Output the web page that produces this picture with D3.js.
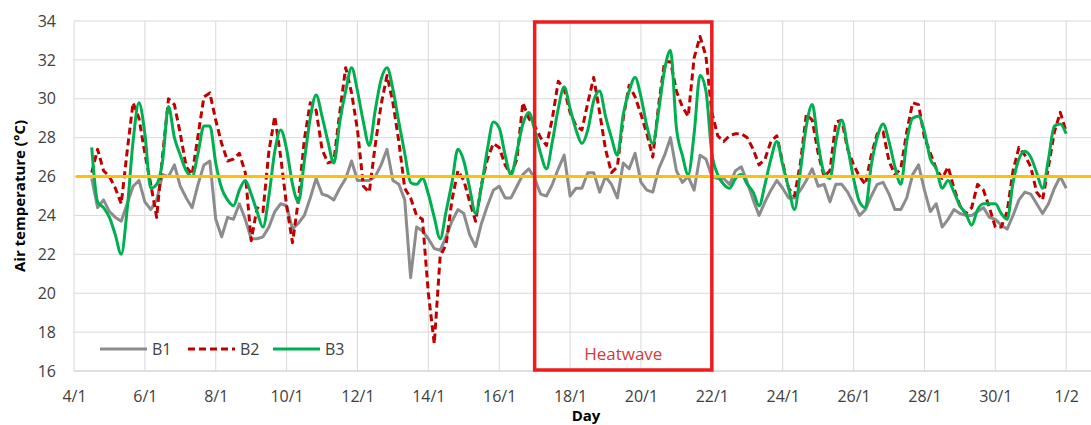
<!DOCTYPE html>
<meta charset="utf-8">
<script src="https://d3js.org/d3.v7.min.js"></script>
<style>
  body { margin: 0; background: #fff; }
  text { font-family: "Open Sans", sans-serif; }
</style>

<!-- Create a div where the graph will take place -->
<div id="my_dataviz"></div>

<script>

  // readings every 4 hours, first one at noon on 4/1 (x = days after 4/1 00:00)
  var startDay = 0.5, stepDays = 4 / 24;

  var b1 = [
    25.9, 24.4, 24.8, 24.2, 23.9, 23.7,
    24.6, 25.5, 25.8, 24.7, 24.3, 24.8,
    26.1, 26.0, 26.6, 25.5, 24.9, 24.4,
    25.6, 26.6, 26.8, 23.8, 22.9, 23.9,
    23.8, 24.6, 23.8, 22.8, 22.8, 22.9,
    23.4, 24.2, 24.6, 24.5, 23.3, 23.6,
    24.0, 24.9, 25.9, 25.1, 25.0, 24.8,
    25.4, 25.9, 26.8, 25.8, 25.8, 25.8,
    26.0, 26.6, 27.4, 25.8, 25.6, 24.8,
    20.8, 23.4, 23.2, 22.8, 22.3, 22.2,
    22.9, 23.7, 24.3, 24.1, 23.0, 22.4,
    23.6, 24.5, 25.3, 25.5, 24.9, 24.9,
    25.5, 26.1, 26.4, 25.9, 25.1, 25.0,
    25.6, 26.4, 27.1, 25.0, 25.4, 25.4,
    26.2, 26.2, 25.2, 26.0, 25.6, 24.9,
    26.7, 26.4, 27.2, 25.7, 25.3, 25.2,
    26.4, 27.1, 28.0, 26.3, 25.7, 26.0,
    25.3, 27.1, 26.9, 26.0, 25.9, 25.9,
    25.6, 26.3, 26.5, 25.7, 24.8, 24.0,
    24.7, 25.3, 25.8, 25.4, 24.9, 24.9,
    25.3, 25.8, 26.4, 25.5, 25.6, 24.7,
    25.6, 25.6, 25.2, 24.6, 24.0, 24.3,
    25.0, 25.6, 25.7, 25.1, 24.3, 24.3,
    24.9, 26.1, 26.6, 25.3, 24.2, 24.6,
    23.4, 23.8, 24.3, 24.1, 24.0, 24.0,
    24.2, 24.4, 23.9, 23.8, 23.5, 23.3,
    24.0, 24.8, 25.2, 25.1, 24.6, 24.1,
    24.6, 25.4, 26.0, 25.4
  ];

  var b2 = [
    26.2, 27.4, 26.3, 26.0, 25.4, 24.6,
    27.3, 29.8, 29.0, 27.2, 25.6, 23.9,
    27.1, 30.0, 29.7, 28.2, 26.5, 26.1,
    28.1, 30.1, 30.3, 28.9, 27.7, 26.8,
    26.9, 27.2, 26.2, 22.7, 24.4, 24.2,
    27.3, 29.1, 27.0, 24.5, 22.6, 24.8,
    27.9, 29.8, 29.4, 27.4, 26.7, 26.8,
    29.3, 31.6, 30.3, 28.4, 25.5, 25.2,
    27.6, 29.7, 31.2, 29.8, 27.8, 25.4,
    24.9, 24.0, 23.8, 20.0, 17.4, 21.9,
    22.5, 24.8, 26.3, 25.8, 24.7, 23.7,
    25.6, 26.9, 27.7, 27.5, 26.6, 26.1,
    26.9, 29.8, 29.0, 28.6, 28.0, 27.6,
    29.0, 30.9, 30.5, 29.3, 28.6, 28.4,
    29.8, 31.1, 29.3, 27.4, 26.2, 26.5,
    29.0, 30.7, 30.1, 29.2, 28.2, 27.0,
    29.7, 31.9, 31.9, 30.4, 29.6, 29.1,
    32.1, 33.2, 32.2, 29.3, 28.1, 27.8,
    28.1, 28.2, 28.2, 28.0, 27.4, 26.6,
    26.9, 27.8, 28.1, 26.7, 25.4, 25.0,
    26.7, 29.2, 28.9, 27.2, 26.0, 26.3,
    28.8, 28.9, 27.4, 26.6, 26.0, 25.6,
    27.1, 28.2, 28.3, 26.8, 26.1, 26.4,
    28.3, 29.8, 29.7, 28.0, 27.2, 26.4,
    25.9, 26.5, 25.4, 24.5, 24.1, 24.4,
    25.6, 25.3, 24.4, 23.4, 23.4, 24.2,
    26.3, 27.5, 27.1, 26.5, 25.2, 24.8,
    26.5, 28.3, 29.3, 28.3
  ];

  var b3 = [
    27.5, 24.7, 24.4, 23.9, 23.0, 22.0,
    24.3, 27.8, 29.8, 28.2, 25.4, 25.6,
    26.8, 29.6, 28.0, 27.1, 26.3, 26.0,
    27.2, 28.6, 28.6, 26.7, 25.4, 24.8,
    24.5, 25.3, 25.8, 25.1, 24.2, 23.4,
    25.0, 27.3, 28.4, 27.4, 25.6, 24.7,
    26.8, 29.0, 30.2, 29.1, 27.8, 26.7,
    28.8, 30.4, 31.6, 30.4, 28.8, 27.6,
    29.4, 31.0, 31.6, 30.5, 28.8, 27.2,
    25.7, 25.6, 25.9, 25.1, 23.9, 22.8,
    24.2, 25.7, 27.4, 26.8, 25.4, 24.1,
    25.5, 27.4, 28.8, 28.5, 27.1, 26.1,
    27.3, 28.7, 29.3, 28.4, 27.2, 26.4,
    27.8, 29.5, 30.6, 29.5, 28.4, 27.7,
    28.4, 29.9, 30.4, 29.1, 28.0, 27.1,
    29.2, 30.4, 31.1, 30.1, 28.6, 27.7,
    29.4, 31.5, 32.5, 28.5, 27.1, 26.1,
    28.2, 31.2, 30.4, 27.2, 26.1, 25.6,
    25.4, 25.9, 26.1, 25.6, 25.2, 24.5,
    25.6, 26.9, 27.8, 26.6, 25.4, 24.3,
    26.3, 28.6, 29.7, 27.7, 26.2, 25.9,
    27.8, 28.9, 27.5, 25.9, 24.7, 24.4,
    26.6, 28.0, 28.7, 27.8, 26.5, 25.6,
    27.8, 29.0, 29.1, 28.3, 26.9, 26.4,
    25.4, 25.8, 25.2, 24.5, 24.1, 23.5,
    24.3, 24.6, 24.6, 24.6, 24.1, 23.8,
    25.7, 26.9, 27.3, 27.0, 26.2, 25.4,
    26.9, 28.6, 28.7, 28.2
  ];

  var seriesNames = ["B1", "B2", "B3"];
  var tickDays = [0, 2, 4, 6, 8, 10, 12, 14, 16, 18, 20, 22, 24, 26, 28];
  var tickLabels = ["4/1", "6/1", "8/1", "10/1", "12/1", "14/1", "16/1", "18/1",
    "20/1", "22/1", "24/1", "26/1", "28/1", "30/1", "1/2"];
  var tempTicks = [16, 18, 20, 22, 24, 26, 28, 30, 32, 34];
  var comfortLimit = 26;
  var heatwaveDays = [13, 18]; // 17/1 -> 22/1

  // set the dimensions and margins of the graph
  var margin = { top: 21, right: 0, bottom: 54, left: 74 },
    width = 1091 - margin.left - margin.right,
    height = 425 - margin.top - margin.bottom;

  var svg = d3.select("#my_dataviz")
    .append("svg")
    .attr("width", width + margin.left + margin.right)
    .attr("height", height + margin.top + margin.bottom)
    .append("g")
    .attr("transform", "translate(" + margin.left + "," + margin.top + ")");

  var x = d3.scaleLinear().domain([0, 28.7]).range([0, width]),
    y = d3.scaleLinear().domain([16, 34]).range([height, 0]);

  // grid
  svg.append("g").selectAll("line.h")
    .data(tempTicks).enter().append("line")
    .attr("x1", 0).attr("x2", width)
    .attr("y1", function (d) { return y(d); })
    .attr("y2", function (d) { return y(d); })
    .attr("stroke", function (d) { return d === 16 ? "#bfbfbf" : "#d9d9d9"; })
    .attr("stroke-width", 1);
  svg.append("g").selectAll("line.v")
    .data(tickDays).enter().append("line")
    .attr("x1", function (d) { return x(d); })
    .attr("x2", function (d) { return x(d); })
    .attr("y1", 0).attr("y2", height)
    .attr("stroke", "#d9d9d9")
    .attr("stroke-width", 1);

  // axes
  var xAxis = svg.append("g")
    .attr("transform", "translate(0," + height + ")")
    .call(d3.axisBottom(x).tickValues(tickDays).tickSize(0).tickPadding(20)
      .tickFormat(function (d, i) { return tickLabels[i]; }));
  var yAxis = svg.append("g")
    .call(d3.axisLeft(y).tickValues(tempTicks).tickSize(0).tickPadding(18));
  [xAxis, yAxis].forEach(function (a) {
    a.select(".domain").remove();
    a.selectAll("text")
      .style("font-family", "'Open Sans', sans-serif")
      .style("font-size", "16px")
      .attr("fill", "#404040");
  });

  // axis titles
  svg.append("text")
    .attr("transform", "translate(" + (20 - margin.left) + "," + (height / 2) + ") rotate(-90)")
    .attr("text-anchor", "middle")
    .attr("dy", "0.35em")
    .style("font-size", "15px")
    .style("font-weight", "bold")
    .attr("fill", "#000")
    .text("Air temperature  (°C)");
  svg.append("text")
    .attr("x", 586 - margin.left)
    .attr("y", 421 - margin.top)
    .attr("text-anchor", "middle")
    .style("font-size", "15px")
    .style("font-weight", "bold")
    .attr("fill", "#000")
    .text("Day");

  // series: measured lines drawn straight, B3 smoothed like the original
  function makeLine(curve) {
    return d3.line()
      .x(function (d, i) { return x(startDay + i * stepDays); })
      .y(function (d) { return y(d); })
      .curve(curve);
  }

  var styles = [
    { color: "#8c8c8c", dash: null, curve: d3.curveLinear },
    { color: "#c00000", dash: "7,4", curve: d3.curveLinear },
    { color: "#00b050", dash: null, curve: d3.curveMonotoneX }
  ];
  [b1, b2, b3].forEach(function (vals, k) {
    svg.append("path")
      .datum(vals)
      .attr("d", makeLine(styles[k].curve))
      .attr("fill", "none")
      .attr("stroke", styles[k].color)
      .attr("stroke-width", 3)
      .attr("stroke-linejoin", "round")
      .attr("stroke-dasharray", styles[k].dash);
  });

  // 26 °C line
  svg.append("line")
    .attr("x1", x(0.05)).attr("x2", width)
    .attr("y1", y(comfortLimit)).attr("y2", y(comfortLimit))
    .attr("stroke", "#ffc000")
    .attr("stroke-width", 3);

  // heatwave box
  svg.append("rect")
    .attr("x", x(heatwaveDays[0]))
    .attr("y", y(34) + 1)
    .attr("width", x(heatwaveDays[1]) - x(heatwaveDays[0]))
    .attr("height", y(16) - y(34) - 2)
    .attr("fill", "none")
    .attr("stroke", "#ee1c1c")
    .attr("stroke-width", 3.5);
  svg.append("text")
    .attr("x", (x(heatwaveDays[0]) + x(heatwaveDays[1])) / 2)
    .attr("y", 360 - margin.top)
    .attr("text-anchor", "middle")
    .style("font-size", "17px")
    .attr("fill", "#d9383a")
    .text("Heatwave");

  // legend
  var legend = svg.append("g").attr("transform", "translate(0," + (349 - margin.top) + ")");
  var legendX = [26, 114, 199];
  seriesNames.forEach(function (name, k) {
    legend.append("line")
      .attr("x1", legendX[k]).attr("x2", legendX[k] + 47)
      .attr("y1", 0).attr("y2", 0)
      .attr("stroke", styles[k].color)
      .attr("stroke-width", 3)
      .attr("stroke-dasharray", styles[k].dash);
    legend.append("text")
      .attr("x", legendX[k] + 52)
      .attr("y", 0)
      .attr("dy", "0.35em")
      .style("font-size", "16px")
      .attr("fill", "#404040")
      .text(name);
  });

</script>
